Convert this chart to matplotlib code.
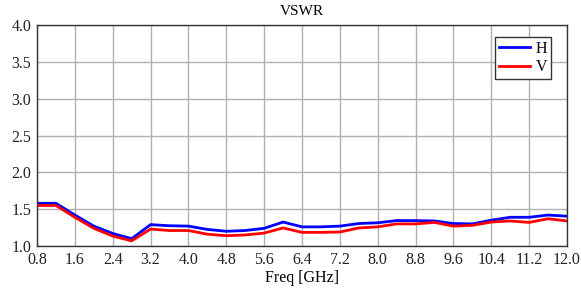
import matplotlib
matplotlib.use('Agg')
import matplotlib.pyplot as plt
import numpy as np

plt.rcParams['font.family'] = ['Liberation Serif', 'DejaVu Serif']

# Frequency points [GHz]
freq = [0.8, 1.2, 1.6, 2.0, 2.4, 2.8, 3.2, 3.6, 4.0, 4.4, 4.8, 5.2, 5.6, 6.0,
        6.4, 6.8, 7.2, 7.6, 8.0, 8.4, 8.8, 9.2, 9.6, 10.0, 10.4, 10.8, 11.2, 11.6, 12.0]
vswr_h = [1.58, 1.58, 1.42, 1.27, 1.17, 1.10, 1.29, 1.275, 1.27, 1.225, 1.20, 1.21, 1.24, 1.325,
          1.26, 1.26, 1.27, 1.305, 1.315, 1.345, 1.345, 1.34, 1.305, 1.30, 1.35, 1.39, 1.39, 1.42, 1.405]
vswr_v = [1.55, 1.55, 1.39, 1.24, 1.135, 1.07, 1.23, 1.21, 1.21, 1.16, 1.14, 1.15, 1.175, 1.245,
          1.185, 1.185, 1.19, 1.245, 1.26, 1.30, 1.30, 1.32, 1.27, 1.28, 1.325, 1.34, 1.32, 1.37, 1.34]
xticks = [0.8, 1.6, 2.4, 3.2, 4.0, 4.8, 5.6, 6.4, 7.2, 8.0, 8.8, 9.6, 10.4, 11.2, 12.0]
yticks = [1.0, 1.5, 2.0, 2.5, 3.0, 3.5, 4.0]

fig = plt.figure(figsize=(5.81, 2.91), dpi=100)
ax = fig.add_axes([37 / 581, 1 - 246 / 291, 530 / 581, 221 / 291])

ax.plot(freq, vswr_h, color='#0000ff', lw=2, label='H')
ax.plot(freq, vswr_v, color='#ff0000', lw=2, label='V')

ax.set_xlim(0.8, 12.0)
ax.set_ylim(1.0, 4.0)
ax.set_xticks(xticks)
ax.set_xticklabels([f'{t:.1f}' for t in xticks])
ax.set_yticks(yticks)
ax.set_yticklabels([f'{t:.1f}' for t in yticks])
ax.tick_params(length=0, labelsize=11.5, pad=4, colors='#222222')
ax.grid(True, color='#b0b0b0', lw=1)
for s in ax.spines.values():
    s.set_color('#333333')
    s.set_linewidth(1)

ax.set_title('VSWR', fontsize=11, pad=7)
ax.set_xlabel('Freq [GHz]', fontsize=11.5, labelpad=2)

leg = ax.legend(loc='upper right', bbox_to_anchor=(514 / 530, 209 / 221), fontsize=11.5,
                handlelength=1.9, handletextpad=0.35, borderpad=0.25, labelspacing=0.15,
                borderaxespad=0, fancybox=False, framealpha=1)
leg.get_frame().set_edgecolor('#333333')
leg.get_frame().set_linewidth(1)

fig.savefig('out.png', dpi=100)
